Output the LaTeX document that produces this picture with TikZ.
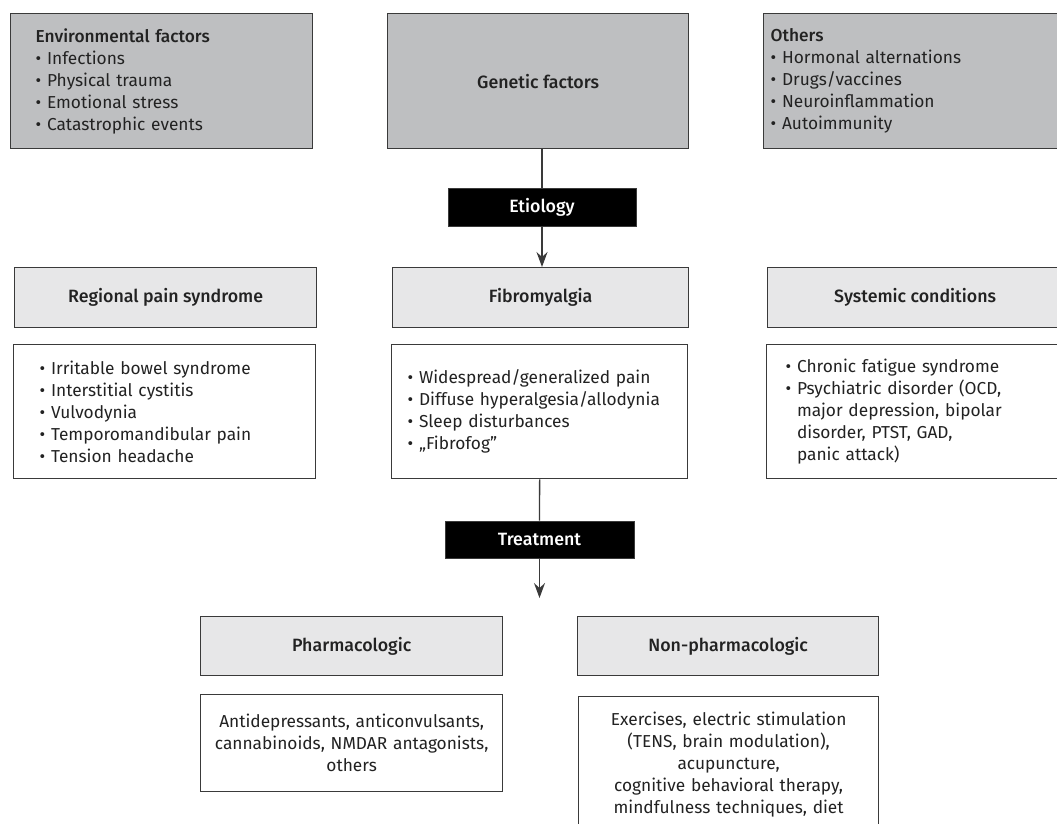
\documentclass[tikz,border=0pt]{standalone}
\usepackage{fontspec}
\setmainfont{Fira Sans}[BoldFont={Fira Sans Medium}]
\usetikzlibrary{arrows.meta}
\definecolor{topgray}{HTML}{BEBFC1}
\definecolor{midgray}{HTML}{E7E7E8}
\definecolor{edgec}{HTML}{3A3A3A}
\definecolor{txt}{HTML}{222222}
\begin{document}
\begin{tikzpicture}[x=1pt,y=-1pt,
  every node/.style={font=\fontsize{17.3}{22}\selectfont, text=txt},
  box/.style={rectangle, draw=edgec, line width=1.3pt, inner ysep=0pt, anchor=north west},
  topbox/.style={box, fill=topgray, minimum height=135pt},
  headbox/.style={box, fill=midgray, minimum height=60pt, font=\fontsize{17.8}{22}\selectfont\bfseries},
  listbox/.style={box, fill=white, minimum height=134pt},
  tag/.style={rectangle, fill=black, draw=edgec, line width=1pt, text=white, minimum width=188pt, minimum height=38pt, font=\fontsize{17.8}{22}\selectfont\bfseries},
  conn/.style={draw=edgec, line width=1.3pt},
  arr/.style={conn, -{Stealth[length=15pt,width=11pt,inset=5pt]}}
]
\useasboundingbox (0,0) rectangle (1057,823);

% top row
\node[topbox, minimum width=302pt, inner xsep=25pt, text width=252pt, align=left] (env) at (10,13)
  {\textbf{Environmental factors}\\• Infections\\• Physical trauma\\• Emotional stress\\• Catastrophic events};
\node[topbox, minimum width=301pt, font=\fontsize{17.8}{22}\selectfont\bfseries] (gen) at (387,13) {Genetic factors};
\node[topbox, minimum width=300pt, inner xsep=7pt, text width=286pt, align=left] (oth) at (763,13)
  {\textbf{Others}\\• Hormonal alternations\\• Drugs/vaccines\\• Neuroinflammation\\• Autoimmunity};

% etiology
\node[tag] (eti) at (542,207) {Etiology};

% middle headers
\node[headbox, minimum width=302pt] (reg) at (14,267) {Regional pain syndrome};
\node[headbox, minimum width=296pt] (fib) at (392,267) {Fibromyalgia};
\node[headbox, minimum width=295pt] (sys) at (767,267) {Systemic conditions};

% middle lists
\node[listbox, minimum width=302pt, inner xsep=26pt, text width=250pt, align=left] (regl) at (13,344)
  {• Irritable bowel syndrome\\• Interstitial cystitis\\• Vulvodynia\\• Temporomandibular pain\\• Tension headache};
\node[listbox, minimum width=296pt, inner xsep=16pt, text width=264pt, align=left] (fibl) at (391,344)
  {• Widespread/generalized pain\\• Diffuse hyperalgesia/allodynia\\• Sleep disturbances\\• „Fibrofog”};
\node[listbox, minimum width=295pt, inner xsep=19pt, text width=257pt, align=left] (sysl) at (766,344)
  {• Chronic fatigue syndrome\\• Psychiatric disorder (OCD,\\\hphantom{• }major depression, bipolar\\\hphantom{• }disorder, PTST, GAD,\\\hphantom{• }panic attack)};

% treatment
\node[tag, minimum width=189pt, minimum height=37pt] (tre) at (539.5,539.5) {Treatment};
\coordinate (split) at (539.5,598);

% bottom
\node[headbox, minimum width=302pt, minimum height=59pt] (pha) at (200,616) {Pharmacologic};
\node[headbox, minimum width=301pt, minimum height=59pt] (non) at (577,616) {Non-pharmacologic};
\node[box, fill=white, minimum width=302pt, minimum height=97pt, text width=290pt, align=center, inner xsep=6pt] (phal) at (200,694)
  {Antidepressants, anticonvulsants,\\cannabinoids, NMDAR antagonists,\\others};
\node[box, fill=white, minimum width=300pt, minimum height=136pt, text width=290pt, align=center, inner xsep=5pt] (nonl) at (578,696)
  {Exercises, electric stimulation\\(TENS, brain modulation),\\acupuncture,\\cognitive behavioral therapy,\\mindfulness techniques, diet};

% connectors
\draw[conn] (eti.north |- gen.south) -- (eti.north);
\draw[arr] (eti.south) -- (eti.south |- fib.north);
\draw[conn] (fibl.south) -- (tre.north);
\draw[arr] (tre.south) -- (split);
\end{tikzpicture}
\end{document}
